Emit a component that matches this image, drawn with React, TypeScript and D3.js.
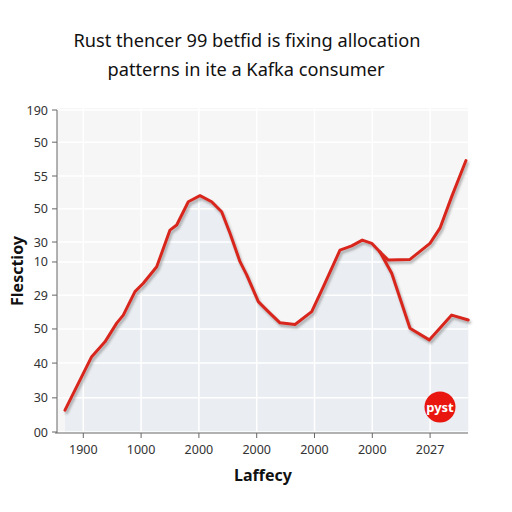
import * as d3 from 'd3';
import React from 'react';

// tick labels (as printed on the chart)
const yTickValues = [0, 10.6, 21.4, 32, 42.5, 52.8, 59, 69.3, 79.5, 90, 100];
const yTickLabels = ['00', '30', '40', '50', '29', '10', '30', '50', '55', '50', '190'];
const xTickValues = [0, 1, 2, 3, 4, 5, 6];
const xTickLabels = ['1900', '1000', '2000', '2000', '2000', '2000', '2027'];

// shared part of the curve
const mainX = [-0.317, 0.145, 0.375, 0.578, 0.692, 0.894, 1.038, 1.27, 1.5, 1.616, 1.817, 2.019, 2.221, 2.394, 2.538, 2.711, 2.827, 3.028, 3.201, 3.403, 3.663, 3.952, 4.152, 4.441, 4.644, 4.827, 4.99, 5.133];
const mainY = [6.8, 23.4, 28.0, 33.8, 36.3, 43.6, 46.2, 51.3, 62.7, 64.3, 71.5, 73.4, 71.5, 68.4, 61.7, 52.9, 48.8, 40.5, 37.4, 33.9, 33.4, 37.4, 45.1, 56.5, 57.8, 59.6, 58.6, 55.9];

// branches after the split
const upperX = [5.277, 5.652, 5.998, 6.171, 6.374, 6.621];
const upperY = [53.4, 53.6, 58.6, 63.3, 73.1, 84.3];
const lowerX = [5.336, 5.652, 5.986, 6.374, 6.661];
const lowerY = [49.3, 32.2, 28.6, 36.3, 34.8];

const W = 512;
const H = 512;
const plot = { left: 57, right: 468, top: 108, bottom: 433 };
const font = '"Noto Sans", "Open Sans", sans-serif';

export default function App() {
  const x = d3.scaleLinear().domain([-0.455, 6.656]).range([plot.left, plot.right]);
  const y = d3.scaleLinear().domain([0, 100]).range([432, 110]);

  const main = mainX.map((v, i) => [v, mainY[i]] as [number, number]);
  const upper = [main[main.length - 1], ...upperX.map((v, i) => [v, upperY[i]] as [number, number])];
  const lower = [main[main.length - 1], ...lowerX.map((v, i) => [v, lowerY[i]] as [number, number])];
  const filled = [...main, ...lower.slice(1)];

  const line = d3.line<[number, number]>().x(d => x(d[0])).y(d => y(d[1]));
  const area = d3.area<[number, number]>().x(d => x(d[0])).y0(plot.bottom).y1(d => y(d[1]));

  return (
    <svg width={W} height={H} style={{ position: 'absolute', left: 0, top: 0, background: '#fff' }}>
      <defs>
        <filter id="shadow" x="-10%" y="-10%" width="120%" height="130%">
          <feDropShadow dx="1.5" dy="2.5" stdDeviation="1.3" floodColor="#555" floodOpacity="0.45" />
        </filter>
      </defs>

      {/* title */}
      <text x={247} y={47} textAnchor="middle" fontFamily={font} fontSize={18.2} fill="#111">
        Rust thencer 99 betfid is fixing allocation
      </text>
      <text x={246} y={76} textAnchor="middle" fontFamily={font} fontSize={18.2} fill="#111">
        patterns in ite a Kafka consumer
      </text>

      {/* plot background */}
      <rect x={plot.left} y={plot.top} width={plot.right - plot.left} height={plot.bottom - plot.top} fill="#f6f6f6" />
      <path d={area(filled) || ''} fill="#eaedf1" />

      {/* grid */}
      {yTickValues.map((v, i) => (
        <line key={'gy' + i} x1={plot.left} x2={plot.right} y1={y(v)} y2={y(v)} stroke="#fff" strokeWidth={1.5} />
      ))}
      {xTickValues.map((v, i) => (
        <line key={'gx' + i} x1={x(v)} x2={x(v)} y1={plot.top} y2={plot.bottom} stroke="#fff" strokeWidth={1.5} />
      ))}

      {/* lines */}
      <g filter="url(#shadow)" fill="none" stroke="#d8261d" strokeWidth={3} strokeLinejoin="round" strokeLinecap="round">
        <path d={line(main) || ''} />
        <path d={line(upper) || ''} />
        <path d={line(lower) || ''} />
      </g>

      {/* badge */}
      <circle cx={440} cy={407} r={15.5} fill="#e8160f" />
      <text x={440} y={412} textAnchor="middle" fontFamily={font} fontSize={13} fontWeight="bold" fill="#fff">pyst</text>

      {/* y axis */}
      <line x1={plot.left} x2={plot.left} y1={110} y2={plot.bottom} stroke="#666" />
      {yTickValues.map((v, i) => (
        <g key={'ty' + i}>
          <line x1={plot.left - 5} x2={plot.left} y1={y(v)} y2={y(v)} stroke="#666" />
          <text x={plot.left - 9} y={y(v) + 4.5} textAnchor="end" fontFamily={font} fontSize={12.5} fill="#333">
            {yTickLabels[i]}
          </text>
        </g>
      ))}

      {/* x axis */}
      <line x1={55} x2={plot.right} y1={plot.bottom} y2={plot.bottom} stroke="#666" />
      {xTickValues.map((v, i) => (
        <g key={'tx' + i}>
          <line x1={x(v)} x2={x(v)} y1={plot.bottom} y2={plot.bottom + 5} stroke="#666" />
          <text x={x(v)} y={plot.bottom + 21} textAnchor="middle" fontFamily={font} fontSize={12.5} fill="#333">
            {xTickLabels[i]}
          </text>
        </g>
      ))}

      {/* axis titles */}
      <text x={263} y={481} textAnchor="middle" fontFamily={font} fontSize={16} fontWeight="bold" fill="#111">Laffecy</text>
      <text transform="translate(23,271) rotate(-90)" textAnchor="middle" fontFamily={font} fontSize={16} fontWeight="bold" fill="#111">Flesctioy</text>
    </svg>
  );
}
